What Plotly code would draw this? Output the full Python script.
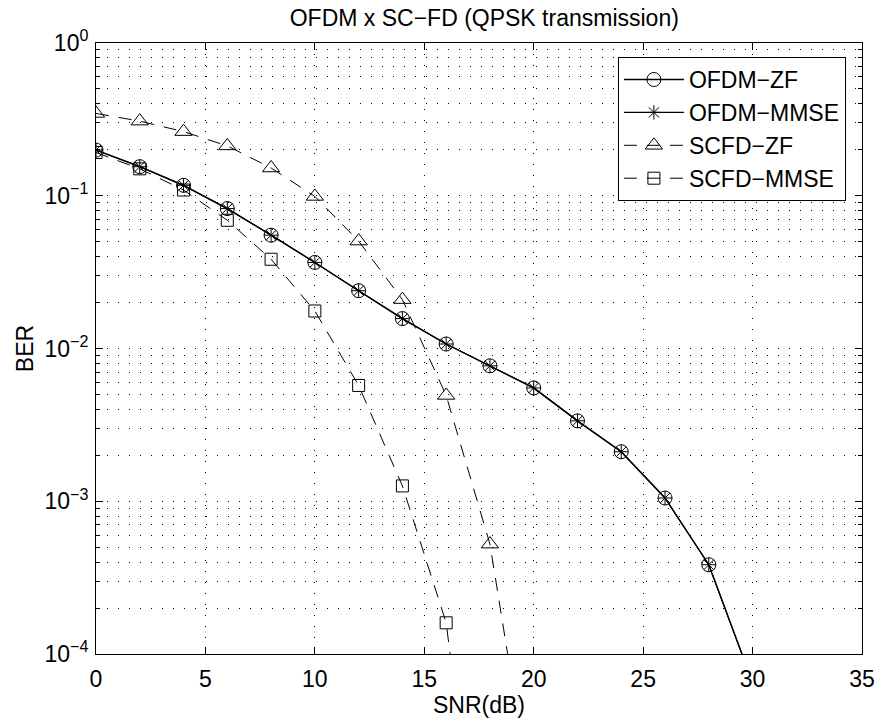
import plotly.graph_objects as go

snr_ofdm = [0, 2, 4, 6, 8, 10, 12, 14, 16, 18, 20, 22, 24, 26, 28, 30]
ber_ofdm_zf = [0.199, 0.155, 0.117, 0.0824, 0.0552, 0.0366, 0.0239, 0.0157, 0.0107,
               0.0077, 0.00552, 0.00336, 0.00211, 0.00105, 3.84e-4, 6.5e-5]
ber_ofdm_mmse = [0.199, 0.155, 0.117, 0.0824, 0.0552, 0.0366, 0.0239, 0.0157, 0.0107,
                 0.0077, 0.00552, 0.00336, 0.00211, 0.00105, 3.84e-4, 6.5e-5]

snr_scfd_zf = [0, 2, 4, 6, 8, 10, 12, 14, 16, 18, 20]
ber_scfd_zf = [0.346, 0.308, 0.263, 0.212, 0.152, 0.099, 0.0505, 0.0209, 0.00493,
               5.24e-4, 8.7e-6]

snr_scfd_mmse = [0, 2, 4, 6, 8, 10, 12, 14, 16, 18]
ber_scfd_mmse = [0.192, 0.150, 0.109, 0.0691, 0.0384, 0.0176, 0.00573, 0.00126,
                 1.6e-4, 8.5e-7]

y_tickvals = [1e-4, 1e-3, 1e-2, 1e-1, 1]
y_ticktext = ["10<sup>−4</sup>", "10<sup>−3</sup>", "10<sup>−2</sup>",
              "10<sup>−1</sup>", "10<sup>0</sup>"]
x_tickvals = [0, 5, 10, 15, 20, 25, 30, 35]

FONT = "Liberation Sans, Arial, Helvetica, sans-serif"
FS = 23

fig = go.Figure()
fig.add_trace(go.Scatter(
    x=snr_ofdm, y=ber_ofdm_zf, name="OFDM−ZF", mode="lines+markers",
    line=dict(color="black", width=1.3),
    marker=dict(symbol="circle-open", size=14, color="black", line=dict(width=1))))
fig.add_trace(go.Scatter(
    x=snr_ofdm, y=ber_ofdm_mmse, name="OFDM−MMSE", mode="lines+markers",
    line=dict(color="black", width=1.3),
    marker=dict(symbol="asterisk-open", size=12, color="black", line=dict(width=1))))
fig.add_trace(go.Scatter(
    x=snr_scfd_zf, y=ber_scfd_zf, name="SCFD−ZF", mode="lines+markers",
    line=dict(color="black", width=1, dash="13px,10px"),
    marker=dict(symbol="triangle-up-open", size=15, color="black", line=dict(width=1))))
fig.add_trace(go.Scatter(
    x=snr_scfd_mmse, y=ber_scfd_mmse, name="SCFD−MMSE", mode="lines+markers",
    line=dict(color="black", width=1, dash="13px,10px"),
    marker=dict(symbol="square-open", size=12, color="black", line=dict(width=1))))

minor_vals = [k * 10.0 ** e for e in range(-4, 0) for k in range(2, 10)]

fig.update_layout(
    width=887, height=722,
    margin=dict(l=96, r=14, t=43, b=64),
    paper_bgcolor="white", plot_bgcolor="white",
    font=dict(family=FONT, size=FS, color="black"),
    title=dict(text="OFDM x SC−FD (QPSK transmission)", x=0.546, xanchor="center",
               y=0.975, yanchor="middle", font=dict(size=FS, family=FONT)),
    showlegend=True,
    legend=dict(x=0.979, y=0.977, xanchor="right", yanchor="top",
                bgcolor="white", bordercolor="black", borderwidth=1,
                font=dict(size=FS, family=FONT), tracegroupgap=0,
                itemwidth=60),
    xaxis=dict(
        range=[0, 35], tickvals=x_tickvals, ticks="inside", ticklen=7,
        tickcolor="black", showline=True, linecolor="black", linewidth=1,
        mirror="allticks", showgrid=True, gridcolor="black", gridwidth=1,
        griddash="1px,10px", zeroline=False, ticklabelstandoff=4,
        title=dict(text="SNR(dB)", standoff=2, font=dict(size=FS)),
    ),
    yaxis=dict(
        type="log", range=[-4, 0], tickvals=y_tickvals, ticktext=y_ticktext,
        ticks="inside", ticklen=7, tickcolor="black", showline=True,
        linecolor="black", linewidth=1, mirror="allticks", showgrid=True,
        gridcolor="black", gridwidth=1, griddash="1px,10px", zeroline=False,
        ticklabelstandoff=2,
        title=dict(text="BER", standoff=4, font=dict(size=FS)),
        minor=dict(tickvals=minor_vals, ticks="inside", ticklen=4, tickcolor="black",
                   showgrid=True, gridcolor="black", gridwidth=1, griddash="1px,10px"),
    ),
)

fig.write_html("out.html")
